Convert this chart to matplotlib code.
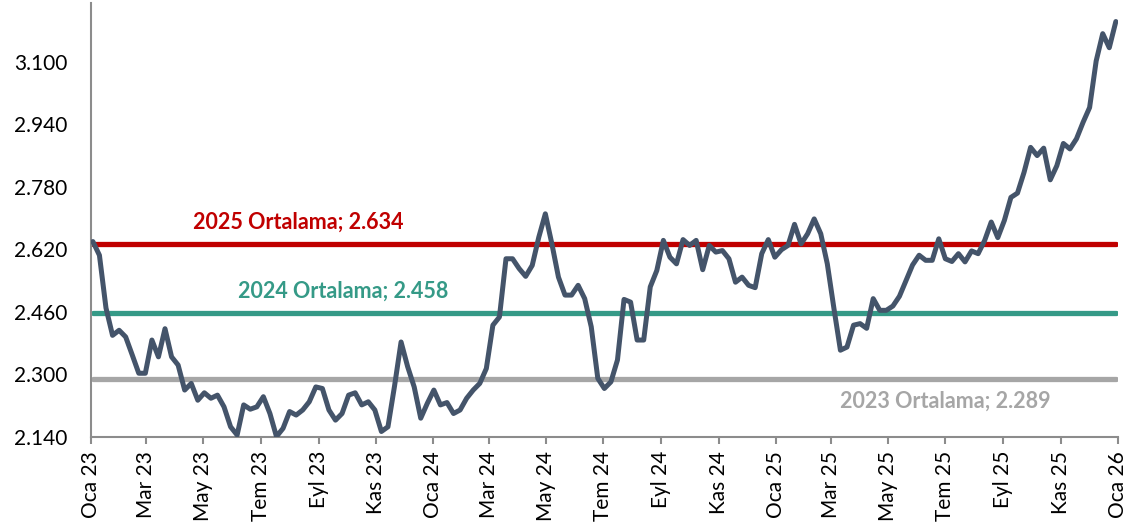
import pandas as pd
import numpy as np
import matplotlib
matplotlib.use("Agg")
import matplotlib.pyplot as plt

# ------------------------------------------------
# Data (weekly series)
# ------------------------------------------------
haftalik = [
    2.640, 2.605, 2.470, 2.400, 2.413, 2.396, 2.350, 2.303, 2.303, 2.388,
    2.345, 2.417, 2.345, 2.324, 2.260, 2.277, 2.234, 2.253, 2.239, 2.247,
    2.217, 2.166, 2.145, 2.222, 2.211, 2.217, 2.243, 2.200, 2.141, 2.162,
    2.205, 2.196, 2.209, 2.230, 2.268, 2.264, 2.209, 2.183, 2.200, 2.247,
    2.253, 2.222, 2.230, 2.209, 2.154, 2.166, 2.270, 2.383, 2.320, 2.268,
    2.188, 2.226, 2.260, 2.222, 2.228, 2.200, 2.209, 2.239, 2.260, 2.277,
    2.315, 2.426, 2.447, 2.596, 2.596, 2.571, 2.551, 2.579, 2.651, 2.711,
    2.634, 2.549, 2.503, 2.503, 2.528, 2.494, 2.422, 2.290, 2.264, 2.281,
    2.337, 2.492, 2.485, 2.388, 2.388, 2.524, 2.566, 2.643, 2.600, 2.583,
    2.645, 2.630, 2.643, 2.568, 2.630, 2.613, 2.617, 2.596, 2.536, 2.549,
    2.528, 2.522, 2.609, 2.645, 2.600, 2.619, 2.630, 2.684, 2.634, 2.660,
    2.698, 2.660, 2.583, 2.470, 2.362, 2.370,
    2.426, 2.430, 2.418, 2.494, 2.464, 2.464, 2.475, 2.500, 2.540, 2.580,
    2.605, 2.592, 2.592, 2.647, 2.596, 2.589, 2.609, 2.588, 2.616, 2.609,
    2.643, 2.690, 2.650, 2.694, 2.753, 2.764, 2.817, 2.881, 2.860, 2.879,
    2.798, 2.834, 2.891, 2.877, 2.903, 2.945, 2.983, 3.102, 3.172, 3.136,
    3.203,
]

ortalama_yil = ["2025", "2024", "2023"]
ortalama_deger = [2.634, 2.458, 2.289]
ortalama_renk = ["#C00000", "#359A87", "#A6A6A6"]
# label anchor (date, value) for each average text
etiket_tarih = ["2023-08-10", "2023-09-27", "2025-07-01"]
etiket_deger = [2.689, 2.513, 2.232]

ay_adlari = ["Oca", "Mar", "May", "Tem", "Eyl", "Kas"]
y_ticks = [2.140, 2.300, 2.460, 2.620, 2.780, 2.940, 3.100]

FONT = ["Lato", "DejaVu Sans"]
plt.rcParams["font.family"] = FONT

# ------------------------------------------------
# Plot
# ------------------------------------------------
tarih = pd.date_range("2023-01-03", periods=len(haftalik), freq="7D")

fig = plt.figure(figsize=(11.29, 5.29), dpi=100)
ax = fig.add_axes([0.0806, 0.174, 0.9094, 0.820])

for deger, renk in zip(ortalama_deger, ortalama_renk):
    ax.plot([tarih[0], tarih[-1]], [deger, deger], color=renk, lw=3.8,
            solid_capstyle="round", zorder=2)

ax.plot(tarih, haftalik, color="#44546A", lw=3.6, solid_joinstyle="round",
        solid_capstyle="round", zorder=3)

for yil, deger, renk, tx, ty in zip(ortalama_yil, ortalama_deger, ortalama_renk,
                                    etiket_tarih, etiket_deger):
    ax.text(pd.Timestamp(tx), ty, f"{yil} Ortalama; {deger:.3f}", color=renk,
            fontsize=15.5, fontweight="bold", ha="center", va="center")

# axes
ax.set_xlim(pd.Timestamp("2023-01-01"), pd.Timestamp("2026-01-01"))
ax.set_ylim(2.14, 3.25)

x_ticks = pd.date_range("2023-01-01", "2026-01-01", freq="2MS")
ax.set_xticks(x_ticks)
ax.set_xticklabels([f"{ay_adlari[(t.month - 1) // 2]} {t.year % 100}" for t in x_ticks],
                   rotation=90, fontsize=15)
ax.set_yticks(y_ticks)
ax.set_yticklabels([f"{v:.3f}" for v in y_ticks], fontsize=15)

ax.tick_params(axis="x", length=5, width=1.5, color="#8C8C8C", pad=5)
ax.tick_params(axis="y", length=0, pad=17)

for s in ["top", "right"]:
    ax.spines[s].set_visible(False)
for s in ["left", "bottom"]:
    ax.spines[s].set_color("#8C8C8C")
    ax.spines[s].set_linewidth(1.5)

fig.savefig("out.png", dpi=100)
